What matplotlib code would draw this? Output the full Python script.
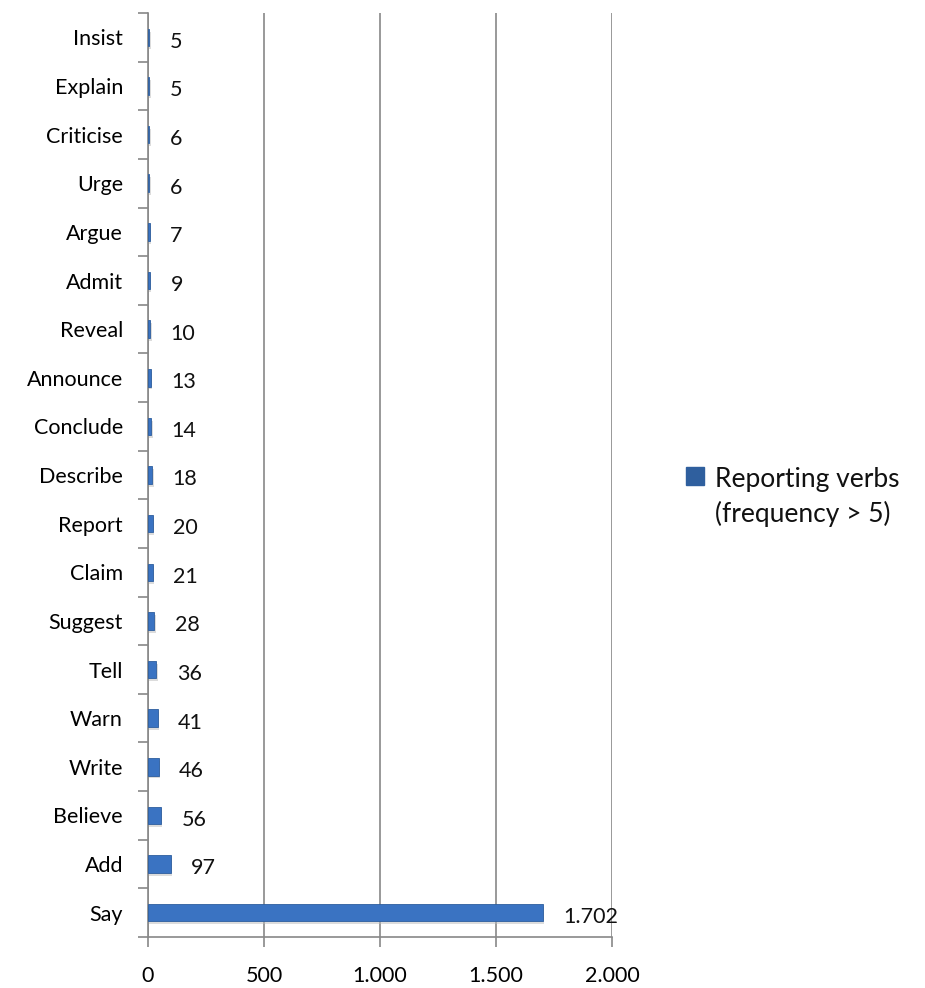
import matplotlib.pyplot as plt
from matplotlib.patches import Rectangle
from matplotlib.ticker import FuncFormatter

verbs = ['Say', 'Add', 'Believe', 'Write', 'Warn', 'Tell', 'Suggest', 'Claim',
         'Report', 'Describe', 'Conclude', 'Announce', 'Reveal', 'Admit',
         'Argue', 'Urge', 'Criticise', 'Explain', 'Insist']
counts = [1702, 97, 56, 46, 41, 36, 28, 21, 20, 18, 14, 13, 10, 9, 7, 6, 6, 5, 5]
series_name = 'Reporting verbs\n(frequency > 5)'

plt.rcParams['font.family'] = ['Lato', 'DejaVu Sans']


def dotted(v, pos=None):
    return f'{int(v):,}'.replace(',', '.')


fig = plt.figure(figsize=(9.25, 9.88), dpi=100)
ax = fig.add_axes([0.16, 0.0516, 0.5016, 0.9352])

y = list(range(len(verbs)))
bar_color = '#3A73C2'
ax.barh(y, counts, height=0.36, color=bar_color, edgecolor='#2D5E9E',
        linewidth=0.6, zorder=3)
# soft shadow under bars
ax.barh([v - 0.06 for v in y], counts, height=0.36, left=6, color='#bbbbbb',
        alpha=0.5, zorder=2, linewidth=0)

for yi, c in zip(y, counts):
    ax.text(c + 88, yi - 0.09, dotted(c), va='center', ha='left', fontsize=15.5,
            color='#111111')

ax.set_xlim(0, 2000)
ax.set_ylim(-0.5, len(verbs) - 0.5)
ax.set_xticks([0, 500, 1000, 1500, 2000])
ax.xaxis.set_major_formatter(FuncFormatter(dotted))
ax.set_yticks(y)
ax.set_yticklabels(verbs)
ax.set_yticks([v - 0.5 for v in range(len(verbs) + 1)], minor=True)
ax.tick_params(axis='y', which='major', length=0, pad=18, labelsize=15.5)
ax.tick_params(axis='y', which='minor', length=7, width=1.2, color='#888888')
ax.tick_params(axis='x', length=7, width=1.2, color='#888888', pad=14, labelsize=15.5)

ax.grid(axis='x', color='#888888', linewidth=1.2, zorder=0)
for s in ['top', 'right']:
    ax.spines[s].set_visible(False)
ax.spines['left'].set_color('#888888')
ax.spines['left'].set_linewidth(1.2)
ax.spines['bottom'].set_visible(False)
ax.axhline(-0.5, color='#888888', linewidth=1.2, zorder=1, clip_on=False)

# legend drawn by hand to match the two-line layout
fig.add_artist(Rectangle((686 / 925, 1 - 485 / 988), 18 / 925, 18 / 988,
                         transform=fig.transFigure, color='#2F5F9E'))
fig.text(715 / 925, 1 - 497 / 988, series_name, ha='left', va='center',
         fontsize=19, linespacing=1.45, color='#111111')

fig.savefig('out.png', dpi=100)
